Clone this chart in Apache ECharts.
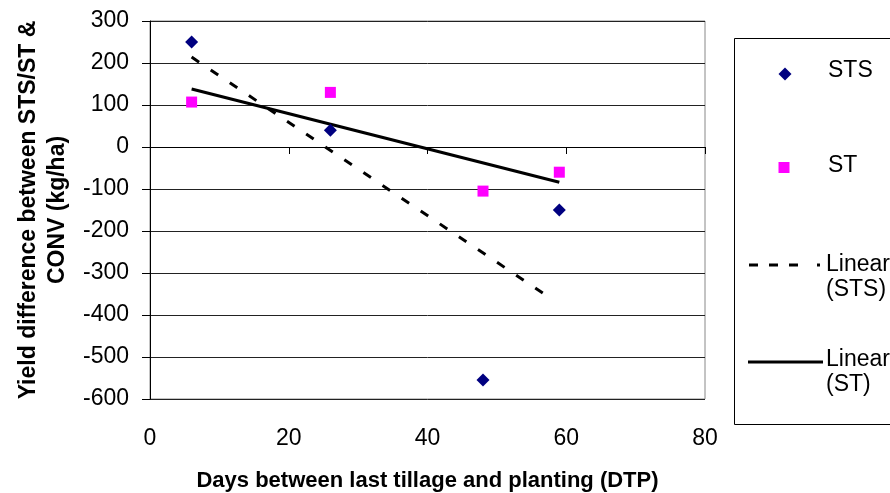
<!DOCTYPE html>
<html>
<head>
<meta charset="utf-8">
<script src="https://cdn.jsdelivr.net/npm/echarts@6/dist/echarts.min.js"></script>
<style>
html,body{margin:0;padding:0;background:#fff;}
#chart{width:890px;height:493px;}
</style>
</head>
<body>
<div id="chart"></div>
<script>
// Data
const stsX = [6, 26, 48, 59];
const stsY = [250, 40, -555, -150];
const stX = [6, 26, 48, 59];
const stY = [107, 130, -105, -60];
// Trend line endpoints
const trendStsX = [6, 57];
const trendStsY = [214, -352];
const trendStX = [6, 59];
const trendStY = [138, -84];
const xTicks = [0, 20, 40, 60, 80];
const yTicks = [-600, -500, -400, -300, -200, -100, 0, 100, 200, 300];
const legendLabels = ['STS', 'ST', 'Linear\n(STS)', 'Linear\n(ST)'];

const FONT = "'Liberation Sans', Arial, sans-serif";
const pairs = (xs, ys) => xs.map((x, i) => [x, ys[i]]);

const chart = echarts.init(document.getElementById('chart'), null, {renderer: 'canvas'});
chart.setOption({
  animation: false,
  backgroundColor: '#fff',
  grid: {left: 150, right: 185, top: 21, bottom: 94, containLabel: false, outerBoundsMode: 'none',
         show: true, borderColor: '#888', borderWidth: 1},
  xAxis: {
    type: 'value', min: xTicks[0], max: xTicks[xTicks.length - 1], interval: 20,
    name: 'Days between last tillage and planting (DTP)',
    nameLocation: 'middle', nameGap: 71,
    nameTextStyle: {fontFamily: FONT, fontWeight: 'bold', fontSize: 22, color: '#000'},
    axisLine: {show: true, lineStyle: {color: '#000', width: 1}},
    axisTick: {show: true, length: 7, lineStyle: {color: '#000'}},
    axisLabel: {fontFamily: FONT, fontSize: 23, color: '#000', margin: 28},
    splitLine: {show: false}
  },
  yAxis: {
    type: 'value', min: yTicks[0], max: yTicks[yTicks.length - 1], interval: 100,
    name: 'Yield difference between STS/ST &\nCONV (kg/ha)',
    nameLocation: 'middle', nameGap: 78, nameRotate: 90,
    nameTextStyle: {fontFamily: FONT, fontWeight: 'bold', fontSize: 23, color: '#000', lineHeight: 29},
    axisLine: {show: true, lineStyle: {color: '#000', width: 1}},
    axisTick: {show: true, length: 8, lineStyle: {color: '#000'}},
    axisLabel: {fontFamily: FONT, fontSize: 23, color: '#000', margin: 21},
    splitLine: {show: true, lineStyle: {color: '#222', width: 1}}
  },
  series: [
    {name: 'STS', type: 'scatter', data: pairs(stsX, stsY), symbol: 'diamond', symbolSize: 13,
     itemStyle: {color: '#000080', opacity: 1}, z: 5},
    {name: 'ST', type: 'scatter', data: pairs(stX, stY), symbol: 'rect', symbolSize: 11,
     itemStyle: {color: '#FF00FF', opacity: 1}, z: 5},
    {name: 'Linear (STS)', type: 'line', data: pairs(trendStsX, trendStsY), symbol: 'none',
     lineStyle: {color: '#000', width: 3, type: [9, 14], cap: 'butt'}, z: 3},
    {name: 'Linear (ST)', type: 'line', data: pairs(trendStX, trendStY), symbol: 'none',
     lineStyle: {color: '#000', width: 3, type: 'solid'}, z: 3}
  ],
  graphic: [
    {type: 'rect', shape: {x: 734.5, y: 38.5, width: 200, height: 386},
     style: {fill: '#fff', stroke: '#000', lineWidth: 1}},
    {type: 'polygon', shape: {points: [[785, 67.5], [791.5, 74], [785, 80.5], [778.5, 74]]},
     style: {fill: '#000080'}},
    {type: 'text', x: 828, y: 71, style: {text: legendLabels[0], font: '23px ' + FONT, fill: '#000', verticalAlign: 'middle'}},
    {type: 'rect', shape: {x: 778.5, y: 162, width: 11, height: 11}, style: {fill: '#FF00FF'}},
    {type: 'text', x: 828, y: 165.5, style: {text: legendLabels[1], font: '23px ' + FONT, fill: '#000', verticalAlign: 'middle'}},
    {type: 'line', shape: {x1: 749, y1: 265, x2: 798, y2: 265},
     style: {stroke: '#000', lineWidth: 3, lineDash: [9, 11]}},
    {type: 'line', shape: {x1: 817, y1: 265, x2: 820, y2: 265},
     style: {stroke: '#000', lineWidth: 3}},
    {type: 'text', x: 826, y: 277, style: {text: legendLabels[2], font: '23px ' + FONT, fill: '#000', verticalAlign: 'middle', lineHeight: 24.5}},
    {type: 'line', shape: {x1: 748, y1: 362, x2: 823, y2: 362},
     style: {stroke: '#000', lineWidth: 3}},
    {type: 'text', x: 826, y: 372, style: {text: legendLabels[3], font: '23px ' + FONT, fill: '#000', verticalAlign: 'middle', lineHeight: 24.5}}
  ]
});
</script>
</body>
</html>
